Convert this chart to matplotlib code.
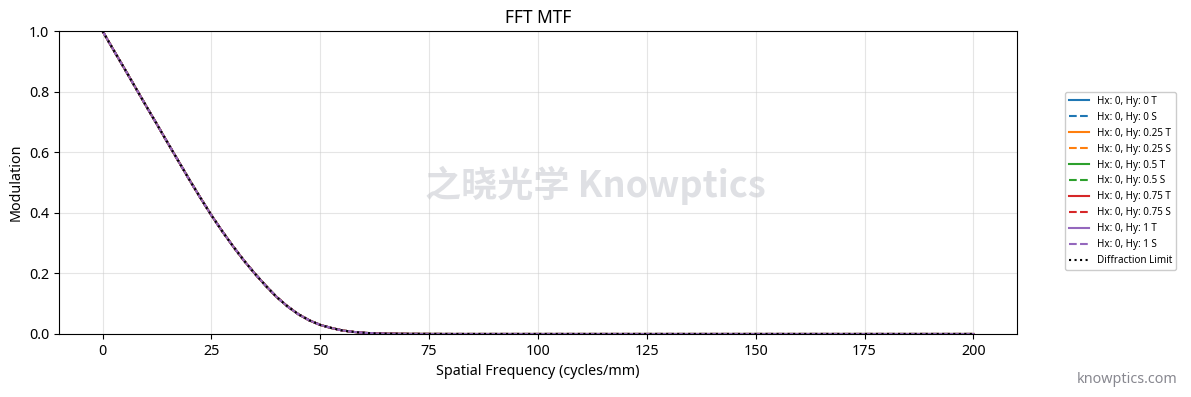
import numpy as np
import matplotlib
matplotlib.use('Agg')
import matplotlib.pyplot as plt
from matplotlib import rcParams

rcParams['font.family'] = ['Noto Sans', 'Noto Sans CJK SC', 'DejaVu Sans']
rcParams['font.size'] = 10.3

# spatial frequency (cycles/mm) and modulation
freq = [0, 2.5, 5, 7.5, 10, 12.5, 15, 17.5, 20, 22.5, 25, 27.5, 30, 32.5, 35,
        37.5, 40, 42.5, 45, 47.5, 50, 52.5, 55, 57.5, 60, 62.5, 65, 70, 80,
        100, 125, 150, 175, 200]
mtf_field = [1.000, 0.938, 0.877, 0.815, 0.753, 0.692, 0.630, 0.569, 0.508,
             0.449, 0.392, 0.339, 0.289, 0.242, 0.199, 0.159, 0.122, 0.091,
             0.065, 0.045, 0.030, 0.020, 0.012, 0.007, 0.004, 0.002, 0.001,
             0.0003, 0.0, 0.0, 0.0, 0.0, 0.0, 0.0]
mtf_diffraction = list(mtf_field)

fields = ['0', '0.25', '0.5', '0.75', '1']
colors = ['#1f77b4', '#ff7f0e', '#2ca02c', '#d62728', '#9467bd']

fig, ax = plt.subplots(figsize=(11.91, 3.97), dpi=100)
fig.subplots_adjust(left=0.0495, right=0.8539, bottom=0.1587, top=0.9219)

for hy, c in zip(fields, colors):
    ax.plot(freq, mtf_field, color=c, lw=1.5, ls='-', label=f'Hx: 0, Hy: {hy} T')
    ax.plot(freq, mtf_field, color=c, lw=1.5, ls='--', label=f'Hx: 0, Hy: {hy} S')
ax.plot(freq, mtf_diffraction, color='black', lw=1.5, ls=':', label='Diffraction Limit')

ax.set_xlim(-10, 210)
ax.set_ylim(0, 1)
ax.set_xticks([0, 25, 50, 75, 100, 125, 150, 175, 200])
ax.set_yticks([0, 0.2, 0.4, 0.6, 0.8, 1.0])
ax.grid(True, color='#cccccc', alpha=0.5, lw=0.8)
ax.set_xlabel('Spatial Frequency (cycles/mm)')
ax.set_ylabel('Modulation')
ax.set_title('FFT MTF', fontsize=12.5)

ax.legend(loc='center left', bbox_to_anchor=(1.045, 0.505), fontsize=7.1,
          framealpha=1, edgecolor='#cccccc')

ax.text(0.56, 0.49, '之晓光学 Knowptics', transform=ax.transAxes, ha='center',
        va='center', fontsize=26, fontweight='bold', color='#b8bcc4', alpha=0.45,
        zorder=0, family=['Noto Sans CJK SC'])
fig.text(0.946, 0.045, 'knowptics.com', ha='center', va='center', fontsize=10.3,
         color='#888890')

fig.savefig('out.png', dpi=100)
